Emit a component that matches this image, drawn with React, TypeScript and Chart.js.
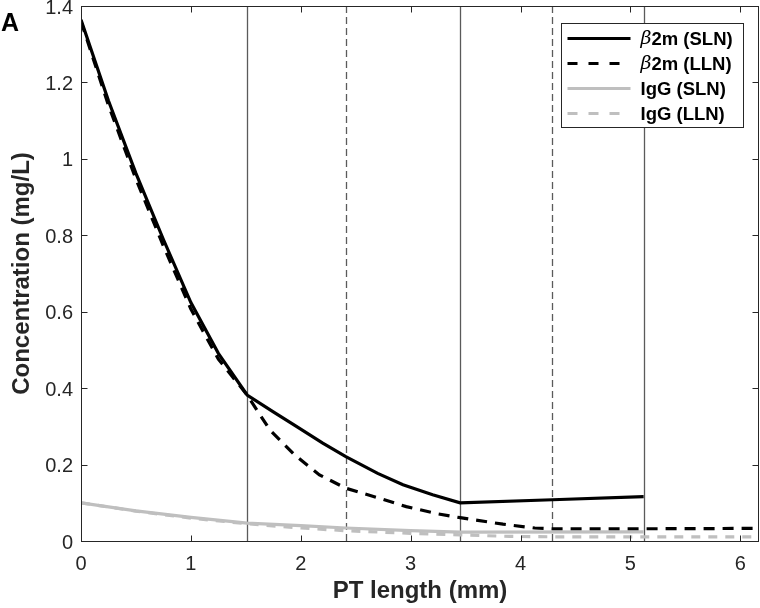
import React, { useEffect, useRef } from "react";
import { Chart, registerables } from "chart.js";

Chart.register(...registerables);

// PT length (mm) and concentration (mg/L)
const b2mSlnX = [0, 0.25, 0.5, 0.75, 1.0, 1.25, 1.512, 1.75, 1.96, 2.2, 2.41, 2.7, 2.93, 3.2, 3.45, 4.29, 5.12];
const b2mSlnY = [1.364, 1.152, 0.962, 0.789, 0.624, 0.491, 0.382, 0.338, 0.3, 0.256, 0.221, 0.177, 0.147, 0.121, 0.1, 0.108, 0.116];

const b2mLlnX = [0, 0.25, 0.5, 0.75, 1.0, 1.25, 1.512, 1.718, 1.945, 2.17, 2.41, 2.69, 2.96, 3.25, 3.45, 3.54, 3.84, 4.13, 4.29, 5.12, 6.17];
const b2mLlnY = [1.36, 1.14, 0.947, 0.772, 0.607, 0.476, 0.382, 0.291, 0.225, 0.173, 0.138, 0.114, 0.09, 0.071, 0.061, 0.057, 0.044, 0.034, 0.032, 0.032, 0.033];

const iggSlnX = [0, 0.5, 1.0, 1.512, 2.0, 2.41, 3.0, 3.45, 5.12];
const iggSlnY = [0.1, 0.079, 0.062, 0.047, 0.04, 0.034, 0.027, 0.023, 0.024];

const iggLlnX = [0, 0.5, 1.0, 1.512, 2.0, 2.41, 3.0, 3.45, 3.9, 4.29, 6.17];
const iggLlnY = [0.1, 0.078, 0.06, 0.045, 0.034, 0.027, 0.02, 0.016, 0.012, 0.011, 0.011];

// segment boundaries (mm)
const solidBoundaries = [1.512, 3.45, 5.12];
const dashedBoundaries = [2.41, 4.29];

const seriesLabels = ["β2m (SLN)", "β2m (LLN)", "IgG (SLN)", "IgG (LLN)"];
const xTicks = [0, 1, 2, 3, 4, 5, 6];
const yTicks = [0, 0.2, 0.4, 0.6, 0.8, 1.0, 1.2, 1.4];

const FONT = '"Liberation Sans", Arial, Helvetica, sans-serif';
const AXIS = "#262626";
const GRAY = "#bfbfbf";

const pts = (xs: number[], ys: number[]) => xs.map((x, i) => ({ x, y: ys[i] }));

export default function App() {
  const ref = useRef<HTMLCanvasElement>(null);

  useEffect(() => {
    const styles = [
      { color: "#000000", dash: [] as number[] },
      { color: "#000000", dash: [11, 8] },
      { color: GRAY, dash: [] as number[] },
      { color: GRAY, dash: [9, 8] },
    ];

    const decor = {
      id: "decor",
      beforeDatasetsDraw(chart: any) {
        const { ctx, chartArea: a, scales } = chart;
        const xs = scales.x;
        ctx.save();
        ctx.strokeStyle = "#5a5a5a";
        ctx.lineWidth = 1.3;
        solidBoundaries.forEach((v) => {
          const px = Math.round(xs.getPixelForValue(v)) + 0.5;
          ctx.setLineDash([]);
          ctx.beginPath();
          ctx.moveTo(px, a.top);
          ctx.lineTo(px, a.bottom);
          ctx.stroke();
        });
        dashedBoundaries.forEach((v) => {
          const px = Math.round(xs.getPixelForValue(v)) + 0.5;
          ctx.setLineDash([7, 4]);
          ctx.beginPath();
          ctx.moveTo(px, a.top);
          ctx.lineTo(px, a.bottom);
          ctx.stroke();
        });
        ctx.restore();
      },
      afterDraw(chart: any) {
        const { ctx, chartArea: a, scales } = chart;
        const xs = scales.x;
        const ys = scales.y;
        ctx.save();
        ctx.strokeStyle = AXIS;
        ctx.lineWidth = 1;
        ctx.setLineDash([]);
        const L = Math.round(a.left) + 0.5;
        const R = Math.round(a.right) - 0.5;
        const T = Math.round(a.top) + 0.5;
        const B = Math.round(a.bottom) + 0.5;
        ctx.strokeRect(L, T, R - L, B - T);
        const tl = 6;
        ctx.beginPath();
        xTicks.forEach((v) => {
          const px = Math.round(xs.getPixelForValue(v)) + 0.5;
          ctx.moveTo(px, B);
          ctx.lineTo(px, B - tl);
          ctx.moveTo(px, T);
          ctx.lineTo(px, T + tl);
        });
        yTicks.forEach((v) => {
          const py = Math.round(ys.getPixelForValue(v)) + 0.5;
          ctx.moveTo(L, py);
          ctx.lineTo(L + tl, py);
          ctx.moveTo(R, py);
          ctx.lineTo(R - tl, py);
        });
        ctx.stroke();

        // panel letter
        ctx.fillStyle = "#000";
        ctx.font = `bold 25px ${FONT}`;
        ctx.textBaseline = "alphabetic";
        ctx.textAlign = "left";
        ctx.fillText("A", 1, 31);

        // legend
        const bw = 182;
        const bh = 104;
        const bx = Math.round(a.right - 16 - bw) + 0.5;
        const by = Math.round(a.top + 17) + 0.5;
        ctx.fillStyle = "#fff";
        ctx.fillRect(bx, by, bw, bh);
        ctx.strokeStyle = AXIS;
        ctx.lineWidth = 1;
        ctx.strokeRect(bx, by, bw, bh);
        seriesLabels.forEach((label, i) => {
          const yy = by + 15 + i * 25;
          ctx.strokeStyle = styles[i].color;
          ctx.lineWidth = 3;
          ctx.setLineDash(styles[i].dash.length ? [10, 11] : []);
          ctx.beginPath();
          ctx.moveTo(bx + 6, yy);
          ctx.lineTo(bx + 69, yy);
          ctx.stroke();
          ctx.setLineDash([]);
          ctx.fillStyle = "#000";
          ctx.textBaseline = "middle";
          let tx = bx + 79;
          let rest = label;
          if (label.startsWith("β")) {
            ctx.font = `italic 19px "DejaVu Serif", serif`;
            ctx.fillText("β", tx, yy + 1);
            tx += ctx.measureText("β").width;
            rest = label.slice(1);
          }
          ctx.font = `bold 18.5px ${FONT}`;
          ctx.fillText(rest, tx, yy + 1);
        });
        ctx.restore();
      },
    };

    const chart = new Chart(ref.current!, {
      type: "line",
      data: {
        datasets: [
          { label: seriesLabels[0], data: pts(b2mSlnX, b2mSlnY), borderColor: styles[0].color, borderDash: styles[0].dash, borderWidth: 3.2, pointRadius: 0, tension: 0, fill: false },
          { label: seriesLabels[1], data: pts(b2mLlnX, b2mLlnY), borderColor: styles[1].color, borderDash: styles[1].dash, borderWidth: 3.2, pointRadius: 0, tension: 0, fill: false },
          { label: seriesLabels[2], data: pts(iggSlnX, iggSlnY), borderColor: styles[2].color, borderDash: styles[2].dash, borderWidth: 3.2, pointRadius: 0, tension: 0, fill: false },
          { label: seriesLabels[3], data: pts(iggLlnX, iggLlnY), borderColor: styles[3].color, borderDash: styles[3].dash, borderWidth: 3.2, pointRadius: 0, tension: 0, fill: false },
        ],
      },
      options: {
        animation: false,
        responsive: false,
        maintainAspectRatio: false,
        layout: { padding: { top: 6, right: 1, left: 0, bottom: 0 } },
        plugins: { legend: { display: false }, tooltip: { enabled: false } },
        scales: {
          x: {
            type: "linear",
            min: 0,
            max: 6.17,
            afterFit: (s: any) => {
              s.height = 67;
              s.paddingLeft = 0;
              s.paddingRight = 0;
            },
            afterBuildTicks: (s: any) => {
              s.ticks = xTicks.map((v) => ({ value: v }));
            },
            ticks: { font: { family: FONT, size: 20 }, color: AXIS, padding: 11, maxRotation: 0 },
            grid: { display: true, drawOnChartArea: false, drawTicks: false },
            border: { display: false },
            title: {
              display: true,
              text: "PT length (mm)",
              font: { family: FONT, size: 24, weight: "bold" },
              color: AXIS,
              padding: { top: 0, bottom: 2 },
            },
          },
          y: {
            type: "linear",
            min: 0,
            max: 1.4,
            afterFit: (s: any) => {
              s.width = 81;
              s.paddingTop = 0;
              s.paddingBottom = 0;
            },
            afterBuildTicks: (s: any) => {
              s.ticks = yTicks.map((v) => ({ value: v }));
            },
            ticks: {
              font: { family: FONT, size: 20 },
              color: AXIS,
              padding: 8,
              labelOffset: 2,
              callback: (v: any) => String(Math.round(Number(v) * 10) / 10),
            },
            grid: { display: true, drawOnChartArea: false, drawTicks: false },
            border: { display: false },
            title: {
              display: true,
              text: "Concentration (mg/L)",
              font: { family: FONT, size: 24, weight: "bold" },
              color: AXIS,
              padding: { top: 8, bottom: 0 },
            },
          },
        },
      },
      plugins: [decor],
    } as any);

    return () => chart.destroy();
  }, []);

  return (
    <div style={{ position: "fixed", left: 0, top: 0, width: 760, height: 608, background: "#fff" }}>
      <canvas ref={ref} width={760} height={608} style={{ display: "block", width: 760, height: 608 }} />
    </div>
  );
}
